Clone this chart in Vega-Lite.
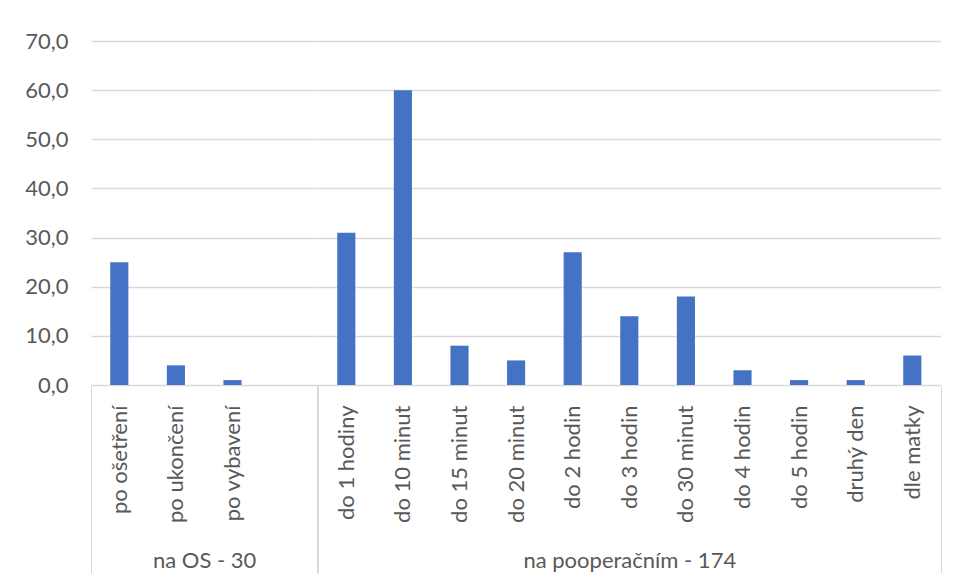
{
  "$schema": "https://vega.github.io/schema/vega-lite/v6.json",
  "padding": {"left": 5, "top": 30, "right": 14, "bottom": 8},
  "spacing": 0,
  "bounds": "flush",
  "background": "white",
  "config": {
    "view": {"stroke": null},
    "font": "Lato",
    "axis": {
      "labelFont": "Lato", "titleFont": "Lato",
      "labelColor": "#595959", "titleColor": "#595959",
      "labelFontSize": 22, "titleFontSize": 22, "titleFontWeight": "normal",
      "gridColor": "#d9d9d9", "domainColor": "#d9d9d9", "tickColor": "#d9d9d9"
    }
  },
  "resolve": {"scale": {"y": "independent", "x": "independent"}},
  "hconcat": [
    {
      "width": 226.4,
      "height": 344,
      "data": {"values": [
        {"group": "na OS - 30", "category": "po ošetření", "value": 25},
        {"group": "na OS - 30", "category": "po ukončení", "value": 4},
        {"group": "na OS - 30", "category": "po vybavení", "value": 1}
      ]},
      "mark": {"type": "bar", "color": "#4472c4", "width": {"band": 0.32}},
      "encoding": {
        "x": {
          "field": "category", "type": "nominal",
          "scale": {"domain": ["po ošetření", "po ukončení", "po vybavení", " "], "paddingInner": 0, "paddingOuter": 0},
          "axis": {
            "title": "na OS - 30", "titleY": 175, "titleBaseline": "middle",
            "labelAngle": -90, "tickBand": "extent", "ticks": true, "tickSize": 188, "labelPadding": -168,
            "tickOpacity": {"condition": {"test": "datum.index === 1 || !isValid(datum.value) || !!datum.extra", "value": 1}, "value": 0},
            "domain": true, "grid": false
          }
        },
        "y": {
          "field": "value", "type": "quantitative",
          "scale": {"domain": [0, 70], "nice": false},
          "axis": {
            "title": null, "values": [0, 10, 20, 30, 40, 50, 60, 70],
            "labelExpr": "replace(format(datum.value, '.1f'), '.', ',')",
            "ticks": false, "domain": false, "labelPadding": 23,
            "minExtent": 86, "maxExtent": 86, "gridWidth": 1.5
          }
        }
      }
    },
    {
      "width": 622.6,
      "height": 344,
      "data": {"values": [
        {"group": "na pooperačním - 174", "category": "do 1 hodiny", "value": 31},
        {"group": "na pooperačním - 174", "category": "do 10 minut", "value": 60},
        {"group": "na pooperačním - 174", "category": "do 15 minut", "value": 8},
        {"group": "na pooperačním - 174", "category": "do 20 minut", "value": 5},
        {"group": "na pooperačním - 174", "category": "do 2 hodin", "value": 27},
        {"group": "na pooperačním - 174", "category": "do 3 hodin", "value": 14},
        {"group": "na pooperačním - 174", "category": "do 30 minut", "value": 18},
        {"group": "na pooperačním - 174", "category": "do 4 hodin", "value": 3},
        {"group": "na pooperačním - 174", "category": "do 5 hodin", "value": 1},
        {"group": "na pooperačním - 174", "category": "druhý den", "value": 1},
        {"group": "na pooperačním - 174", "category": "dle matky", "value": 6}
      ]},
      "mark": {"type": "bar", "color": "#4472c4", "width": {"band": 0.32}},
      "encoding": {
        "x": {
          "field": "category", "type": "nominal", "sort": null,
          "scale": {"paddingInner": 0, "paddingOuter": 0},
          "axis": {
            "title": "na pooperačním - 174", "titleY": 175, "titleBaseline": "middle",
            "labelAngle": -90, "tickBand": "extent", "ticks": true, "tickSize": 188, "labelPadding": -168,
            "tickOpacity": {"condition": {"test": "datum.index === 1 || !isValid(datum.value) || !!datum.extra", "value": 1}, "value": 0},
            "domain": true, "grid": false
          }
        },
        "y": {
          "field": "value", "type": "quantitative",
          "scale": {"domain": [0, 70], "nice": false},
          "axis": {
            "title": null, "values": [0, 10, 20, 30, 40, 50, 60, 70],
            "labels": false, "ticks": false, "domain": false, "gridWidth": 1.5,
            "minExtent": 0, "maxExtent": 0
          }
        }
      }
    }
  ]
}
